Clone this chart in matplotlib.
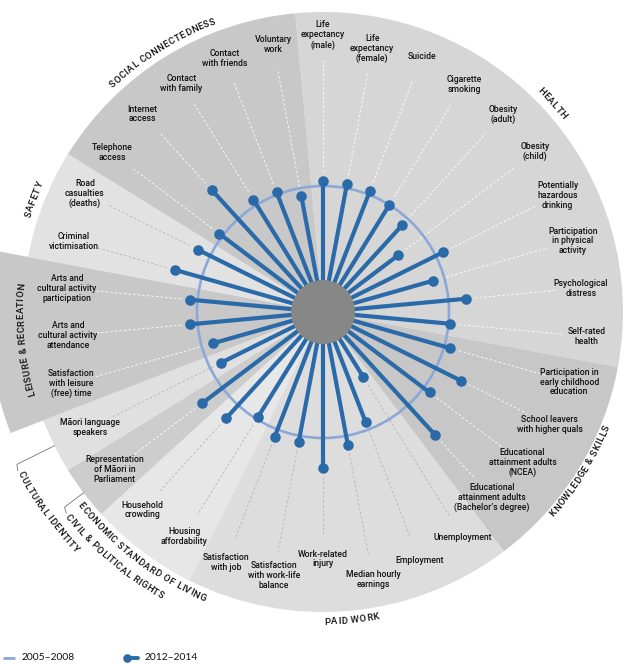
import numpy as np
import matplotlib

matplotlib.use("Agg")
import matplotlib.pyplot as plt
from matplotlib.colors import to_rgb
from matplotlib.font_manager import FontProperties
from matplotlib.patches import Circle, Wedge

# indicators clockwise from the top, grouped by domain
INDICATORS = [
    "Life\nexpectancy\n(male)", "Life\nexpectancy\n(female)", "Suicide", "Cigarette\nsmoking",
    "Obesity\n(adult)", "Obesity\n(child)", "Potentially\nhazardous\ndrinking",
    "Participation\nin physical\nactivity", "Psychological\ndistress", "Self-rated\nhealth",
    "Participation in\nearly childhood\neducation", "School leavers\nwith higher quals",
    "Educational\nattainment adults\n(NCEA)", "Educational\nattainment adults\n(Bachelor’s degree)",
    "Unemployment", "Employment", "Median hourly\nearnings", "Work-related\ninjury",
    "Satisfaction\nwith work-life\nbalance", "Satisfaction\nwith job",
    "Housing\naffordability", "Household\ncrowding",
    "Representation\nof Māori in\nParliament",
    "Māori language\nspeakers",
    "Satisfaction\nwith leisure\n(free) time", "Arts and\ncultural activity\nattendance",
    "Arts and\ncultural activity\nparticipation",
    "Criminal\nvictimisation", "Road\ncasualties\n(deaths)",
    "Telephone\naccess", "Internet\naccess", "Contact\nwith family", "Contact\nwith friends",
    "Voluntary\nwork",
]
# 2012-2014 relative to 2005-2008 (= 100)
INDEX_2012_2014 = [
    104, 103, 103, 100, 93, 75, 106, 91, 114, 101,
    105, 122, 106, 132,
    61, 94, 107, 124, 105, 106,
    98, 114,
    120,
    90,
    91, 106, 106,
    122, 111,
    103, 131, 105, 102, 94,
]
BASELINE_2005_2008 = 100
DOMAINS = [
    "HEALTH", "KNOWLEDGE & SKILLS", "PAID WORK", "ECONOMIC STANDARD OF LIVING",
    "CIVIL & POLITICAL RIGHTS", "CULTURAL IDENTITY", "LEISURE & RECREATION", "SAFETY",
    "SOCIAL CONNECTEDNESS",
]
DOMAIN_SIZES = [10, 4, 6, 2, 1, 1, 3, 2, 5]
LEGEND_LABELS = ["2005–2008", "2012–2014"]

# layout, in pixels
W, H = 630, 665
CX, CY = 323, 312
R_OUTER = 300
R_RING = 126
R_HUB = 32
# distance of each indicator label from the centre
LABEL_R = [277, 268, 274, 268, 267, 266, 262, 260, 259, 265,
           256, 253, 250, 251,
           265, 267, 272, 247, 268, 269,
           264, 268, 261, 260,
           262, 256, 257, 259, 266,
           264, 268, 269, 272, 272]

DOMAIN_FILL = ["#d6d6d6", "#c7c7c7", "#dddddd", "#e7e7e7", "#cdcdcd",
               "#e0e0e0", "#c8c8c8", "#e2e2e2", "#c8c8c8"]
DOMAIN_RADIUS = {"LEISURE & RECREATION": 335}
# (reads clockwise?, radius, angle, anchor)
DOMAIN_TITLE = {
    "CIVIL & POLITICAL RIGHTS": (False, 327, 231.6, "start"),
    "CULTURAL IDENTITY": (False, 343, 242.3, "start"),
    "LEISURE & RECREATION": (True, 302, None, "center"),
    "KNOWLEDGE & SKILLS": (False, 306, None, "center"),
}
BRACKETS = {"CIVIL & POLITICAL RIGHTS": 324, "CULTURAL IDENTITY": 342}

SPOKE = "#2a6aa8"
RING = "#8ca8d6"
INK = "#111111"


def pt(theta, r):
    t = np.radians(theta)
    return CX + r * np.sin(t), CY - r * np.cos(t)


def curved_text(ax, rend, s, r, theta, fp, clockwise=True, anchor="center", track=0.5):
    widths = [rend.get_text_width_height_descent(c, fp, ismath=False)[0] + track for c in s]
    span = np.degrees(sum(widths) / r)
    sign = 1 if clockwise else -1
    start = theta - sign * span / 2 if anchor == "center" else theta
    cum = 0.0
    for c, w in zip(s, widths):
        th = start + sign * np.degrees((cum + w / 2) / r)
        x, y = pt(th, r)
        rot = -th if clockwise else 180 - th
        ax.text(x, y, c, fontproperties=fp, color=INK, rotation=rot, ha="center",
                va="center", rotation_mode="anchor")
        cum += w


fig = plt.figure(figsize=(W / 100, H / 100), dpi=100, facecolor="white")
ax = fig.add_axes([0, 0, 1, 1])
ax.set_xlim(0, W)
ax.set_ylim(H, 0)
ax.axis("off")
rend = fig.canvas.get_renderer()

n = len(INDICATORS)
step = 360 / n
angles = np.arange(n) * step

lab_fp = FontProperties(family=["Roboto", "DejaVu Sans"], size=6.2, weight=500)
dom_fp = FontProperties(family=["Roboto", "DejaVu Sans"], size=6.8, weight=500)

# domain wedges
edges = np.concatenate([[0], np.cumsum(DOMAIN_SIZES)])
dom_of = np.repeat(np.arange(len(DOMAINS)), DOMAIN_SIZES)
for i, name in enumerate(DOMAINS):
    th1 = (edges[i] - 0.5) * step
    th2 = (edges[i + 1] - 0.5) * step
    rad = DOMAIN_RADIUS.get(name, R_OUTER)
    ax.add_patch(Wedge((CX, CY), rad, th1 - 90, th2 - 90, facecolor=DOMAIN_FILL[i],
                       edgecolor="none", zorder=1))

    clockwise, r_t, th_t, anchor = DOMAIN_TITLE.get(name, (None, 310, None, "center"))
    mid = (th1 + th2) / 2
    if clockwise is None:
        clockwise = not (90 < mid < 270)
    curved_text(ax, rend, name, r_t, mid if th_t is None else th_t, dom_fp,
                clockwise=clockwise, anchor=anchor)
    if name in BRACKETS:
        rb = BRACKETS[name]
        bx, by = zip(pt(mid, R_OUTER), pt(mid, rb), pt(mid - 1.0, rb + 2))
        ax.plot(bx, by, color="#777777", lw=0.6, zorder=2)

# leader lines and indicator labels
for k, (lab, val) in enumerate(zip(INDICATORS, INDEX_2012_2014)):
    th = angles[k]
    r_end = R_RING * val / BASELINE_2005_2008
    fill = to_rgb(DOMAIN_FILL[dom_of[k]])
    lead = "white" if np.mean(fill) < 0.85 else "#b3b3b3"
    (x0, y0), (x1, y1) = pt(th, r_end + 9), pt(th, LABEL_R[k] - 25)
    ax.plot([x0, x1], [y0, y1], color=lead, lw=0.6, ls=(0, (3, 2.5)), zorder=2)
    lx, ly = pt(th, LABEL_R[k])
    ax.text(lx, ly, lab, fontproperties=lab_fp, color=INK, ha="center", va="center",
            multialignment="center", linespacing=1.12, zorder=3)

# 2005-2008 reference ring
ax.add_patch(Circle((CX, CY), R_RING * BASELINE_2005_2008 / 100, fill=False,
                    edgecolor=RING, lw=1.9, zorder=3))

# 2012-2014 spokes
for k, val in enumerate(INDEX_2012_2014):
    x1, y1 = pt(angles[k], R_RING * val / BASELINE_2005_2008)
    ax.plot([CX, x1], [CY, y1], color=SPOKE, lw=3.0, solid_capstyle="butt", zorder=4)
    ax.plot(x1, y1, "o", color=SPOKE, ms=7.6, mec="none", zorder=5)

ax.add_patch(Circle((CX, CY), R_HUB, facecolor="#878787", edgecolor="none", zorder=6))

# legend
leg_fp = FontProperties(family=["Lato", "DejaVu Sans"], size=7.4)
ax.plot([3, 15], [658, 658], color=RING, lw=2.0, solid_capstyle="butt")
ax.text(22, 658, LEGEND_LABELS[0], fontproperties=leg_fp, color=INK, va="center")
ax.plot([127, 138], [658, 658], color=SPOKE, lw=2.8, solid_capstyle="round")
ax.plot(127, 658, "o", color=SPOKE, ms=6.2, mec="none")
ax.text(145, 658, LEGEND_LABELS[1], fontproperties=leg_fp, color=INK, va="center")

fig.savefig("out.png", dpi=100, facecolor="white")
